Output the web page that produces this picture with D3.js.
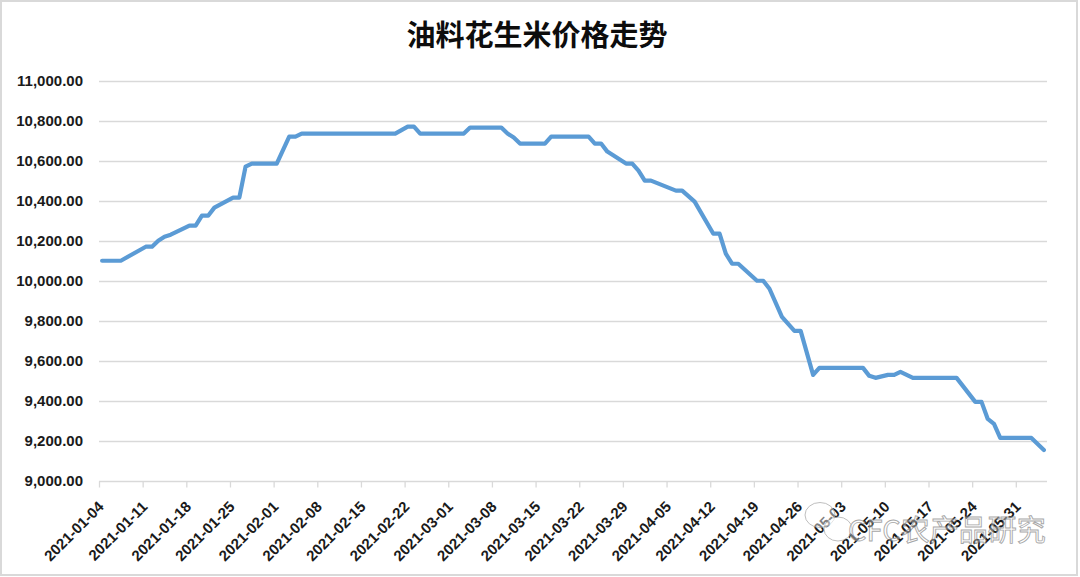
<!DOCTYPE html>
<html><head><meta charset="utf-8">
<script src="https://cdn.jsdelivr.net/npm/d3@7"></script>
<style>html,body{margin:0;padding:0;background:#fff;} svg{display:block}</style>
</head><body>
<svg id="chart" width="1080" height="577"></svg>
<script>
const title = "油料花生米价格走势";
const dates = ["2021-01-04","2021-01-07","2021-01-11","2021-01-12","2021-01-13","2021-01-14","2021-01-15","2021-01-18","2021-01-19","2021-01-20","2021-01-21","2021-01-22","2021-01-25","2021-01-26","2021-01-27","2021-01-28","2021-02-01","2021-02-03","2021-02-04","2021-02-05","2021-02-20","2021-02-22","2021-02-23","2021-02-24","2021-03-03","2021-03-04","2021-03-09","2021-03-10","2021-03-11","2021-03-12","2021-03-16","2021-03-17","2021-03-23","2021-03-24","2021-03-25","2021-03-26","2021-03-29","2021-03-30","2021-03-31","2021-04-01","2021-04-02","2021-04-06","2021-04-07","2021-04-09","2021-04-12","2021-04-13","2021-04-14","2021-04-15","2021-04-16","2021-04-19","2021-04-20","2021-04-21","2021-04-23","2021-04-25","2021-04-26","2021-04-28","2021-04-29","2021-05-06","2021-05-07","2021-05-08","2021-05-10","2021-05-11","2021-05-12","2021-05-14","2021-05-21","2021-05-24","2021-05-25","2021-05-26","2021-05-27","2021-05-28","2021-06-02","2021-06-04"];
const prices = [10100,10100,10170,10170,10200,10220,10230,10275,10275,10325,10325,10365,10415,10415,10570,10585,10585,10720,10720,10735,10735,10770,10770,10735,10735,10765,10765,10735,10715,10685,10685,10720,10720,10685,10685,10645,10585,10585,10550,10500,10500,10450,10450,10395,10235,10235,10135,10085,10085,10000,10000,9960,9820,9750,9750,9530,9565,9565,9525,9515,9530,9530,9545,9515,9515,9395,9395,9310,9285,9215,9215,9155];
const xTickLabels = ["2021-01-04","2021-01-11","2021-01-18","2021-01-25","2021-02-01","2021-02-08","2021-02-15","2021-02-22","2021-03-01","2021-03-08","2021-03-15","2021-03-22","2021-03-29","2021-04-05","2021-04-12","2021-04-19","2021-04-26","2021-05-03","2021-05-10","2021-05-17","2021-05-24","2021-05-31"];
const yTickValues = [9000,9200,9400,9600,9800,10000,10200,10400,10600,10800,11000];
const xDomain = ["2021-01-04","2021-06-05"];
const watermark = "CFC农产品研究";

const parse = d3.timeParse("%Y-%m-%d");
const data = dates.map((d,i)=>({date: parse(d), value: prices[i]}));
const svg = d3.select("#chart");

const x = d3.scaleTime().domain(xDomain.map(parse)).range([99, 1047]);
const y = d3.scaleLinear().domain([9000, 11000]).range([481, 80.5]);
// each day's point sits in the middle of its day slot (date axis, between tick marks)
const xMid = d => x(d3.timeHour.offset(d, 12));

// border
svg.append("rect").attr("x",1).attr("y",1).attr("width",1076).attr("height",574)
  .attr("fill","#fff").attr("stroke","#d9d9d9").attr("stroke-width",2);

// gridlines
svg.append("g").selectAll("line").data(yTickValues.slice(1)).join("line")
  .attr("x1",99).attr("x2",1047)
  .attr("y1",d=>Math.round(y(d))+0.5).attr("y2",d=>Math.round(y(d))+0.5)
  .attr("stroke","#d9d9d9").attr("stroke-width",1.3);

// y axis labels
const yAxis = d3.axisLeft(y).tickValues(yTickValues).tickSize(0).tickPadding(16).tickFormat(d3.format(",.2f"));
const gy = svg.append("g").attr("transform","translate(99,0)").call(yAxis);
gy.select(".domain").remove();
gy.selectAll("text").attr("font-family","'Liberation Sans', Arial, sans-serif")
  .attr("font-weight","bold").attr("font-size","15px").attr("fill","#1a1a1a");

// x axis
const xAxis = d3.axisBottom(x).tickValues(xTickLabels.map(parse)).tickSize(6).tickFormat("");
const gx = svg.append("g").attr("transform","translate(0,481.5)").call(xAxis);
gx.select(".domain").attr("stroke","#d9d9d9").attr("stroke-width",1.3).attr("d","M99,0H1047");
gx.selectAll(".tick line").attr("stroke","#d9d9d9").attr("stroke-width",1.3);

svg.append("g").selectAll("text").data(xTickLabels).join("text")
  .attr("transform",d=>`translate(${x(parse(d))+2},504) rotate(-45)`)
  .attr("text-anchor","end").attr("dy","0.35em")
  .attr("font-family","'Liberation Sans', Arial, sans-serif")
  .attr("font-weight","bold").attr("font-size","15px").attr("fill","#1a1a1a")
  .text(d=>d);

// line
const line = d3.line().x(d=>xMid(d.date)).y(d=>y(d.value));
svg.append("path").datum(data).attr("d",line)
  .attr("fill","none").attr("stroke","#5b9bd5").attr("stroke-width",4.2)
  .attr("stroke-linejoin","round").attr("stroke-linecap","round");

// title
svg.append("text").attr("x",537).attr("y",46).attr("text-anchor","middle")
  .attr("font-family","'Noto Sans CJK SC', sans-serif").attr("font-weight","bold")
  .attr("font-size","29px").attr("fill","#0d0d0d").text(title);

// watermark
const wm = svg.append("g").attr("opacity",0.75);
wm.append("ellipse").attr("cx",820).attr("cy",515).attr("rx",15).attr("ry",12.5)
  .attr("fill","#fff").attr("fill-opacity",0.6).attr("stroke","#aaa").attr("stroke-width",1);
wm.append("ellipse").attr("cx",838).attr("cy",529).attr("rx",14).attr("ry",12)
  .attr("fill","#fff").attr("fill-opacity",0.6).attr("stroke","#aaa").attr("stroke-width",1);
wm.append("text").attr("x",848).attr("y",541)
  .attr("font-family","'Noto Sans CJK SC', sans-serif").attr("font-size","29px")
  .attr("fill","#fff").attr("fill-opacity",0.5).attr("stroke","#8a8a8a").attr("stroke-width",0.9)
  .text(watermark);
</script>
</body></html>
